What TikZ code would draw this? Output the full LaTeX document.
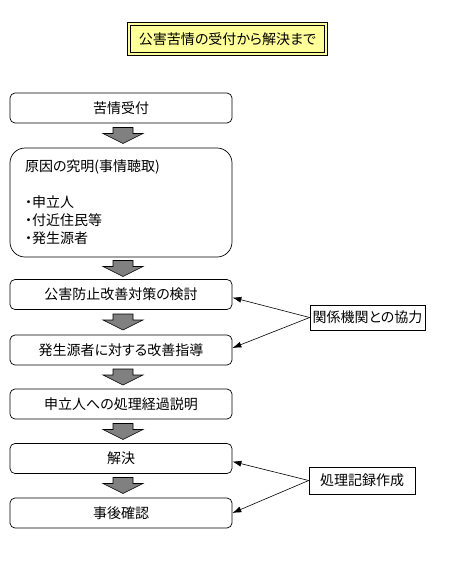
\documentclass[tikz,border=0pt]{standalone}
\usepackage{fontspec}
\newfontfamily\jpfont[RawFeature=+palt]{Noto Sans CJK JP}
\usetikzlibrary{arrows.meta}
\definecolor{titlefill}{HTML}{FFFF99}
\definecolor{flowgray}{HTML}{808080}
\tikzset{
  jp/.style={font=\jpfont\fontsize{14}{18}\selectfont},
  stepbox/.style={draw, jp, rounded corners=5pt, fill=white, line width=0.7pt,
    minimum width=222pt, minimum height=30pt, inner sep=0pt},
  sidebox/.style={draw, jp, fill=white, line width=0.7pt, inner sep=0pt},
  link/.style={-{Latex[length=9pt,width=6pt]}, line width=0.6pt},
  flow/.pic={\draw[fill=flowgray, line width=0.6pt] (-10,-8) -- (10,-8) -- (10,-2)
    -- (20,-2) -- (0,8) -- (-20,-2) -- (-10,-2) -- cycle;}
}
\begin{document}
\begin{tikzpicture}[x=1pt,y=-1pt]
\useasboundingbox[fill=white] (0,0) rectangle (450,562);
\node[draw, jp, fill=titlefill, double=titlefill, double distance=2.5pt, line width=0.7pt,
  minimum width=197pt, minimum height=30pt, inner sep=0pt] (title) at (227.5,39) {公害苦情の受付から解決まで};

\node[stepbox] (accept) at (121,108) {苦情受付};
\node[stepbox, rounded corners=15pt, minimum height=109pt, text width=192pt,
  inner xsep=15pt, align=left] (cause) at (121,202.5)
  {原因の究明(事情聴取)\\[18pt]・申立人\\・付近住民等\\・発生源者};
\node[stepbox] (review) at (121,294.5) {公害防止改善対策の検討};
\node[stepbox] (guide) at (121,350) {発生源者に対する改善指導};
\node[stepbox] (report) at (121,404) {申立人への処理経過説明};
\node[stepbox] (solve) at (121,458.5) {解決};
\node[stepbox] (check) at (121,513) {事後確認};

\pic at (123,135.5) {flow};
\pic at (123,268.5) {flow};
\pic at (123,322) {flow};
\pic at (123,377) {flow};
\pic at (123,431.5) {flow};
\pic at (123,485.5) {flow};

\node[sidebox, minimum width=115pt, minimum height=25pt] (coop) at (367.5,317.5) {関係機関との協力};
\node[sidebox, minimum width=106pt, minimum height=27pt] (record) at (362,480.5) {処理記録作成};

\draw[link] (coop.west) -- ([yshift=-3pt]review.east);
\draw[link] (coop.west) -- ([yshift=2pt]guide.east);
\draw[link] (record.west) -- ([yshift=-3pt]solve.east);
\draw[link] (record.west) -- (check.east);
\end{tikzpicture}
\end{document}
